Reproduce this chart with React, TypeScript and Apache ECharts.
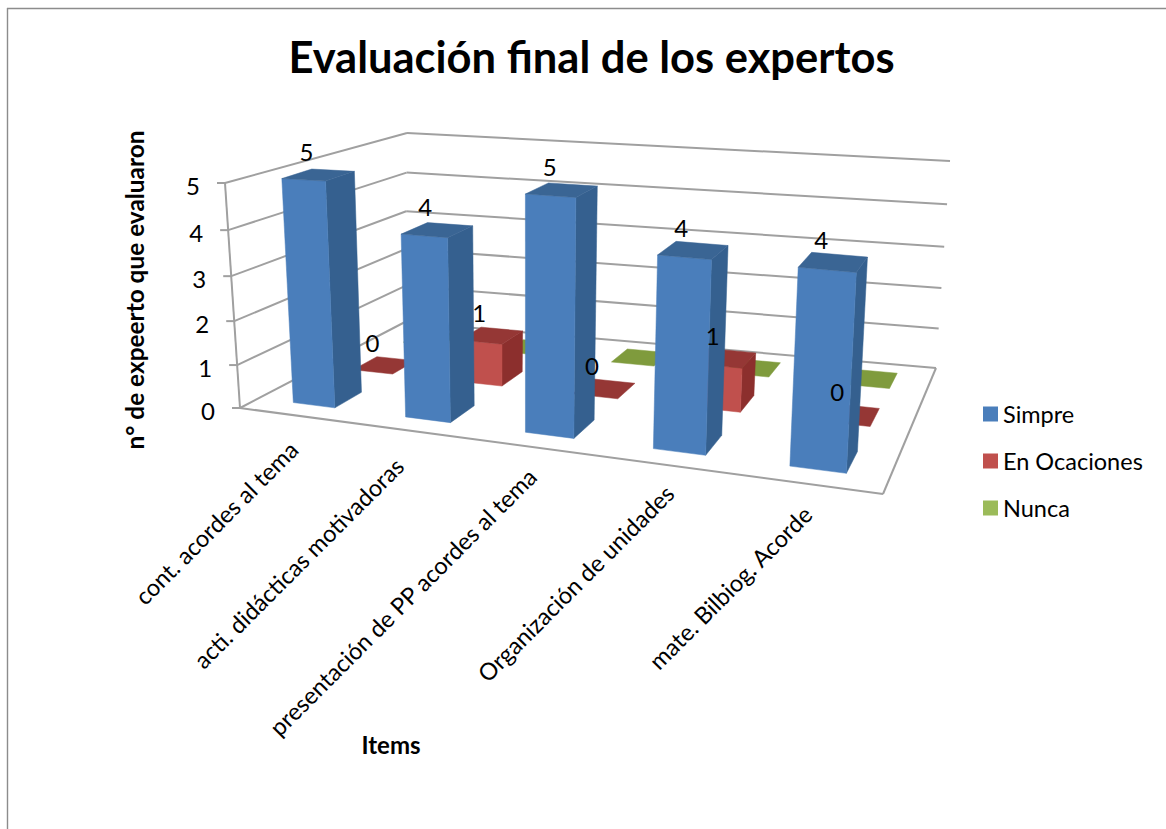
import React, { useEffect, useRef } from "react";
import * as echarts from "echarts";

const categories = [
  "cont. acordes al tema",
  "acti. didácticas motivadoras",
  "presentación de PP acordes al tema",
  "Organización de unidades",
  "mate. Bilbiog. Acorde",
];
const simpre = [5, 4, 5, 4, 4];
const enOcaciones = [0, 1, 0, 1, 0];
const nunca = [0, 0, 0, 0, 0];
const yTicks = [0, 1, 2, 3, 4, 5];

const FONT = "Lato, Carlito, Calibri, sans-serif";
const GRID_LINE = "#a0a0a0";

// Perspective box: floor corners and the height vector at each corner
const FL = [240, 408], FR = [883, 494], BR = [936, 368], BL = [405, 322];
const HFL = [-15, -225], HFR = [14, -261], HBR = [14, -207], HBL = [2, -189];

const dx1 = FR[0] - BR[0], dx2 = BL[0] - BR[0], sx = FL[0] - FR[0] + BR[0] - BL[0];
const dy1 = FR[1] - BR[1], dy2 = BL[1] - BR[1], sy = FL[1] - FR[1] + BR[1] - BL[1];
const det = dx1 * dy2 - dx2 * dy1;
const g = (sx * dy2 - dx2 * sy) / det;
const h = (dx1 * sy - sx * dy1) / det;
const a = FR[0] - FL[0] + g * FR[0], b = BL[0] - FL[0] + h * BL[0];
const d = FR[1] - FL[1] + g * FR[1], e = BL[1] - FL[1] + h * BL[1];

function project(u: number, v: number, w: number): number[] {
  const q = g * u + h * v + 1;
  const x = (a * u + b * v + FL[0]) / q;
  const y = (d * u + e * v + FL[1]) / q;
  const r = 1.06;
  const t = w <= 0 ? 0 : w / (w + (1 - w) * r);
  const mix = (k: number) =>
    (1 - v) * ((1 - u) * HFL[k] + u * HFR[k]) + v * ((1 - u) * HBL[k] + u * HBR[k]);
  return [x + t * mix(0), y + t * mix(1)];
}

// unit-space position of a data point, read through the chart's own axes
function unit(params: any, api: any, cat: number, val: number) {
  const cs = params.coordSys;
  const p = api.coord([cat, val]);
  return { u: (p[0] - cs.x) / cs.width, w: (cs.y + cs.height - p[1]) / cs.height };
}

const HALF_D = 0.075;
const halfWidth = (u: number) => 0.041 - 0.005 * u;
const centre = (u: number) => u + 0.025 - 0.094 * (u - 0.5) * (u - 0.5);
const LABEL_NUDGE = [[8, -4], [-2, -3], [7, -9], [12, -10], [8, -8]];

function barItem(row: number, colors: { front: string; side: string; top: string }) {
  return (params: any, api: any) => {
    const { u, w } = unit(params, api, api.value(0), api.value(1));
    const c = centre(u);
    const u0 = c - halfWidth(u), u1 = c + halfWidth(u);
    const v0 = row - HALF_D, v1 = row + HALF_D;
    const poly = (pts: number[][], fill: string) => ({
      type: "polygon",
      shape: { points: pts },
      style: { fill, stroke: fill, lineWidth: 0.5 },
    });
    const children: any[] = [];
    if (w > 0) {
      children.push(
        poly([project(u1, v0, 0), project(u1, v1, 0), project(u1, v1, w), project(u1, v0, w)], colors.side),
        poly([project(u0, v0, 0), project(u1, v0, 0), project(u1, v0, w), project(u0, v0, w)], colors.front)
      );
    }
    children.push(poly([project(u0, v0, w), project(u1, v0, w), project(u1, v1, w), project(u0, v1, w)], colors.top));
    return { type: "group", children };
  };
}

function valueLabelItem(row: number) {
  return (params: any, api: any) => {
    const val = api.value(1);
    const { u, w } = unit(params, api, api.value(0), val);
    const p = project(centre(u), row, w);
    return {
      type: "text",
      x: p[0] - 12,
      y: p[1] - 23,
      style: { text: String(val), fill: "#000", font: `24px ${FONT}`, textAlign: "center", textVerticalAlign: "middle" },
    };
  };
}

const rows = [
  { name: "Nunca", values: nunca, row: 0.84, front: "#9BBB59", side: "#71893F", top: "#7F9B3D" },
  { name: "En Ocaciones", values: enOcaciones, row: 0.51, front: "#C0504D", side: "#8C2F2D", top: "#953735" },
  { name: "Simpre", values: simpre, row: 0.17, front: "#4A7EBB", side: "#35608F", top: "#3A6594" },
];

export default function App() {
  const ref = useRef<HTMLDivElement>(null);
  useEffect(() => {
    document.body.style.margin = "0";
    const chart = echarts.init(ref.current!, null, { renderer: "svg" });
    const series: any[] = [
      {
        type: "custom",
        id: "walls",
        z: 1,
        silent: true,
        data: yTicks.map((t) => [0, t]),
        renderItem: (params: any, api: any) => {
          const { w } = unit(params, api, 0, api.value(1));
          const line = (p: number[], q: number[]) => ({
            type: "line",
            shape: { x1: p[0], y1: p[1], x2: q[0], y2: q[1] },
            style: { stroke: GRID_LINE, lineWidth: 2 },
          });
          const f = project(0, 0, w);
          const children: any[] = [
            line(f, project(0, 1, w)),
            line(project(0, 1, w), project(1, 1, w)),
            line([f[0] - 8, f[1]], f),
            {
              type: "text",
              x: f[0] - 32,
              y: f[1] + 2,
              style: { text: String(api.value(1)), fill: "#000", font: `24px ${FONT}`, textAlign: "center", textVerticalAlign: "middle" },
            },
          ];
          if (w === 0) {
            children.push(
              line(project(0, 0, 0), project(1, 0, 0)),
              line(project(1, 0, 0), project(1, 1, 0)),
              line(project(0, 0, 0), project(0, 0, 1))
            );
          }
          return { type: "group", children };
        },
      },
      {
        type: "custom",
        id: "categoryLabels",
        z: 2,
        silent: true,
        data: categories.map((_, i) => [i, 0]),
        renderItem: (params: any, api: any) => {
          const i = api.value(0);
          const { u } = unit(params, api, i, 0);
          const p = project(centre(u), 0, 0);
          return {
            type: "text",
            x: p[0] - 10 + LABEL_NUDGE[i][0],
            y: p[1] + 34 + LABEL_NUDGE[i][1],
            rotation: Math.PI / 4,
            style: { text: categories[i], fill: "#000", font: `23.6px ${FONT}`, textAlign: "right", textVerticalAlign: "middle" },
          };
        },
      },
    ];
    rows.forEach((r, k) => {
      series.push({
        type: "custom",
        name: r.name,
        z: 3 + k,
        silent: true,
        itemStyle: { color: r.front },
        data: r.values.map((v, i) => [i, v]),
        renderItem: barItem(r.row, r),
      });
    });
    rows.forEach((r) => {
      series.push({
        type: "custom",
        id: r.name + "-labels",
        z: 10,
        silent: true,
        data: r.name === "Nunca" ? [] : r.values.map((v, i) => [i, v]),
        renderItem: valueLabelItem(r.row),
      });
    });
    chart.setOption({
      animation: false,
      backgroundColor: "#fff",
      title: {
        text: "Evaluación final de los expertos",
        left: 586.5,
        top: 29,
        textAlign: "center",
        textStyle: { fontFamily: FONT, fontWeight: "bold", fontSize: 43.5, color: "#000" },
      },
      grid: { left: 0, right: 0, top: 0, bottom: 0, show: false },
      xAxis: { type: "category", data: categories, show: false },
      yAxis: { type: "value", min: 0, max: 5, show: false },
      legend: {
        left: 978,
        top: 396,
        orient: "vertical",
        itemWidth: 15,
        itemHeight: 15,
        itemGap: 21,
        icon: "rect",
        selectedMode: false,
        data: ["Simpre", "En Ocaciones", "Nunca"],
        textStyle: { fontFamily: FONT, fontSize: 23.5, color: "#000", lineHeight: 26 },
      },
      graphic: [
        { type: "line", shape: { x1: 7.5, y1: 8, x2: 7.5, y2: 829 }, style: { stroke: "#8c8c8c", lineWidth: 1.4 } },
        { type: "line", shape: { x1: 7, y1: 8.5, x2: 1166, y2: 8.5 }, style: { stroke: "#8c8c8c", lineWidth: 1.4 } },
        {
          type: "text",
          x: 134,
          y: 290,
          rotation: Math.PI / 2,
          style: { text: "n° de expeerto que evaluaron", fill: "#000", font: `bold 24.4px ${FONT}`, textAlign: "center", textVerticalAlign: "middle" },
        },
        {
          type: "text",
          x: 391,
          y: 744,
          style: { text: "Items", fill: "#000", font: `bold 24px ${FONT}`, textAlign: "center", textVerticalAlign: "middle" },
        },
      ],
      series,
    });
    return () => chart.dispose();
  }, []);
  return <div ref={ref} style={{ position: "absolute", left: 0, top: 0, width: 1166, height: 829 }} />;
}
